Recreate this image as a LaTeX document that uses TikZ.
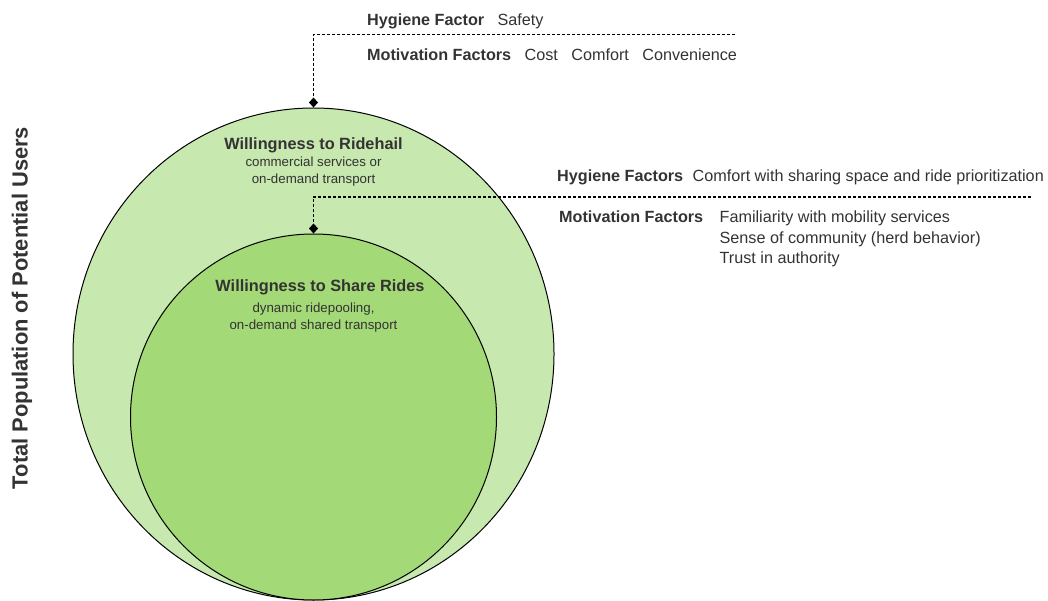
\documentclass[tikz,border=0pt]{standalone}
\usepackage{fontspec}
\setmainfont{Liberation Sans}
\usepackage{tikz}
\usetikzlibrary{
  positioning,
  arrows.meta,
  shapes.geometric
}
\definecolor{hailgreen}{RGB}{199,232,174}
\definecolor{sharegreen}{RGB}{163,217,119}
\definecolor{labelgray}{RGB}{51,51,51}
\tikzset{
  setcircle/.style={
    ellipse,
    draw=black,
    line width=1pt,
    inner sep=0pt,
  },
  grouptitle/.style={
    font={\fontsize{16.3}{19}\selectfont\bfseries},
    text=labelgray,
    inner sep=0pt,
  },
  subtitle/.style={
    font={\fontsize{13.3}{17}\selectfont},
    text=labelgray,
    align=center,
    inner sep=0pt,
  },
  factorhead/.style={
    font={\fontsize{16.2}{19}\selectfont\bfseries},
    text=labelgray,
    inner sep=0pt,
    text height=11.5pt,
    text depth=3.5pt,
  },
  factor/.style={
    factorhead,
    font={\fontsize{16.2}{19}\selectfont},
  },
  factorlink/.style={
    -{Diamond[length=10pt,width=9pt]},
    dash pattern=on 3pt off 2pt,
    line width=1.2pt,
  },
  poplabel/.style={
    font={\fontsize{21.9}{25}\selectfont\bfseries},
    text=labelgray,
    rotate=90,
  },
}

\begin{document}
\begin{tikzpicture}[x=1pt,y=-1pt,node distance=13pt]
	\useasboundingbox (0,0) rectangle (1048,601);
	\def\gap{13pt}

	% circles
	\node[setcircle,fill=hailgreen,minimum width=481pt,minimum height=492pt] (ridehail) at (313.5,354) {};
	\node[setcircle,fill=sharegreen,minimum width=366pt,minimum height=366pt] (share) at (313.5,417) {};

	\node[grouptitle,anchor=base] (hailtitle) at (313.5,149.5) {Willingness to Ridehail};
	\node[subtitle,below=4pt of hailtitle] (hailsub) {commercial services or\\on-demand transport};
	\node[grouptitle,anchor=base] (sharetitle) at (320,291) {Willingness to Share Rides};
	\node[subtitle,below=8pt of sharetitle.south -| share.south] (sharesub) {dynamic ridepooling,\\on-demand shared transport};

	\node[poplabel] (population) at (22,308) {Total Population of Potential Users};

	% factors
	\node[factorhead,anchor=base west] (hyg1) at (367,25.5) {Hygiene Factor};
	\node[factor,right=\gap of hyg1] (safety) {Safety};
	\node[factorhead,anchor=base west] (mot1) at (367,60.5) {Motivation Factors};
	\node[factor,right=\gap of mot1] (cost) {Cost};
	\node[factor,right=\gap of cost] (comfort) {Comfort};
	\node[factor,right=\gap of comfort] (conv) {Convenience};

	\node[factorhead,anchor=base west] (hyg2) at (557,181.5) {Hygiene Factors};
	\node[factor,right=9pt of hyg2] (sharing) {Comfort with sharing space and ride prioritization};
	\node[factorhead,anchor=base west] (mot2) at (559,223) {Motivation Factors};
	\node[factor,right=16pt of mot2] (familiar) {Familiarity with mobility services};
	\node[factor,below=5pt of familiar.south west,anchor=north west] (herd) {Sense of community (herd behavior)};
	\node[factor,below=5pt of herd.south west,anchor=north west] (trust) {Trust in authority};

	% edges
	\coordinate (hailend) at (735,34.5);
	\coordinate (shareend) at (1031,197);
	\draw[factorlink] (hailend) -| (ridehail.north);
	\draw[factorlink] (shareend) -| (share.north);
\end{tikzpicture}
\end{document}
